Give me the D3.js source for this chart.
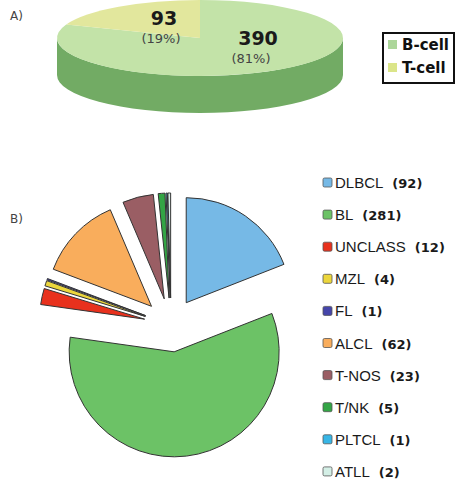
<!DOCTYPE html>
<html>
<head>
<meta charset="utf-8">
<script src="https://cdn.jsdelivr.net/npm/d3@7"></script>
<style>
  body { margin: 0; background: #fff; }
  svg { display: block; }
</style>
</head>
<body>
<div class="chart"></div>
<script>
// panel A data
const cellTypes = ["B-cell", "T-cell"];
const cellCounts = [390, 93];
const cellPct = ["(81%)", "(19%)"];

// panel B data
const subtypes = ["DLBCL", "BL", "UNCLASS", "MZL", "FL", "ALCL", "T-NOS", "T/NK", "PLTCL", "ATLL"];
const subtypeCounts = [92, 281, 12, 4, 1, 62, 23, 5, 1, 2];

const width = 457, height = 487;

const svg = d3.select(".chart").append("svg")
  .attr("width", width)
  .attr("height", height);

// ---------- A) 3D pie ----------
const topColor = d3.scaleOrdinal().domain(cellTypes).range(["#c3e3a8", "#e2e79d"]);
const sideColor = d3.scaleOrdinal().domain(cellTypes).range(["#72ab64", "#b9bf70"]);
const keyColor = d3.scaleOrdinal().domain(cellTypes).range(["#acd69a", "#dbe589"]);

const cx = 200, cy = 38, rx = 143, ry = 38, depth = 37;

const pieA = d3.pie().sort(null).value(d => d.count);
const dataA = pieA(cellTypes.map((t, i) => ({type: t, count: cellCounts[i], pct: cellPct[i]})));

// angle measured clockwise from 12 o'clock
const px = (a, dy = 0) => [cx + rx * Math.sin(a), cy + dy - ry * Math.cos(a)];

const gA = svg.append("g");

// side wall, front half only
gA.selectAll("path.side")
  .data(dataA)
  .join("path")
    .attr("class", "side")
    .attr("fill", d => sideColor(d.data.type))
    .attr("d", d => {
      const s = Math.max(d.startAngle, Math.PI / 2);
      const e = Math.min(d.endAngle, Math.PI * 1.5);
      if (e <= s) return null;
      const p0 = px(s), p1 = px(e), q1 = px(e, depth), q0 = px(s, depth);
      return "M" + p0 + "A" + rx + "," + ry + " 0 0 1 " + p1 +
        "L" + q1 + "A" + rx + "," + ry + " 0 0 0 " + q0 + "Z";
    });

// top face
gA.selectAll("path.top")
  .data(dataA)
  .join("path")
    .attr("class", "top")
    .attr("fill", d => topColor(d.data.type))
    .attr("d", d => {
      const large = d.endAngle - d.startAngle > Math.PI ? 1 : 0;
      return "M" + cx + "," + cy + "L" + px(d.startAngle) +
        "A" + rx + "," + ry + " 0 " + large + " 1 " + px(d.endAngle) + "Z";
    });

// value labels
const labelPos = {"B-cell": [58, 7], "T-cell": [-36, -13]};
const lab = gA.selectAll("g.lab")
  .data(dataA)
  .join("g")
    .attr("class", "lab")
    .attr("transform", d => "translate(" + (cx + labelPos[d.data.type][0]) + "," + (cy + labelPos[d.data.type][1]) + ")");
lab.append("text")
  .attr("text-anchor", "middle")
  .attr("font-family", "DejaVu Sans")
  .attr("font-weight", "bold")
  .attr("font-size", 19)
  .attr("fill", "#1a1a1a")
  .text(d => d.data.count);
lab.append("text")
  .attr("x", d => d.data.type === "B-cell" ? -7 : -3)
  .attr("y", 18)
  .attr("text-anchor", "middle")
  .attr("font-family", "DejaVu Sans")
  .attr("font-size", 13)
  .attr("fill", "#444")
  .text(d => d.data.pct);

svg.append("text")
  .attr("x", 10).attr("y", 20)
  .attr("font-family", "DejaVu Sans")
  .attr("font-size", 12)
  .attr("fill", "#444")
  .text("A)");

// legend A
const legA = svg.append("g").attr("transform", "translate(383,33)");
legA.append("rect")
  .attr("width", 71).attr("height", 50)
  .attr("fill", "#fff")
  .attr("stroke", "#111")
  .attr("stroke-width", 2);
const legAItem = legA.selectAll("g")
  .data(cellTypes)
  .join("g")
    .attr("transform", (d, i) => "translate(5," + (7 + i * 23) + ")");
legAItem.append("rect")
  .attr("width", 9).attr("height", 9)
  .attr("fill", d => keyColor(d));
legAItem.append("text")
  .attr("x", 14).attr("y", 10)
  .attr("font-family", "DejaVu Sans")
  .attr("font-weight", "bold")
  .attr("font-size", 15)
  .attr("fill", "#111")
  .text(d => d);

// ---------- B) exploded pie ----------
const color = d3.scaleOrdinal()
  .domain(subtypes)
  .range(["#76b9e6", "#6cc266", "#e8311d", "#ecd63c", "#4545aa",
          "#f9ad5c", "#9a5e64", "#33a545", "#38b6e6", "#d4efe6"]);

const r = 105, explode = 27;
const pieB = d3.pie().sort(null).value(d => d.count);
const arcB = d3.arc().innerRadius(0).outerRadius(r);
const dataB = pieB(subtypes.map((s, i) => ({name: s, count: subtypeCounts[i]})));

const gB = svg.append("g").attr("transform", "translate(171,325)");
gB.selectAll("path")
  .data(dataB)
  .join("path")
    .attr("transform", d => {
      const m = (d.startAngle + d.endAngle) / 2;
      return "translate(" + explode * Math.sin(m) + "," + (-explode * Math.cos(m)) + ")";
    })
    .attr("d", arcB)
    .attr("fill", d => color(d.data.name))
    .attr("stroke", "#333")
    .attr("stroke-width", 1)
    .attr("stroke-linejoin", "round");

svg.append("text")
  .attr("x", 10).attr("y", 223)
  .attr("font-family", "DejaVu Sans")
  .attr("font-size", 12)
  .attr("fill", "#444")
  .text("B)");

// legend B
const legB = svg.append("g").attr("transform", "translate(323,178)");
const legBItem = legB.selectAll("g")
  .data(dataB)
  .join("g")
    .attr("transform", (d, i) => "translate(0," + i * 32.1 + ")");
legBItem.append("rect")
  .attr("width", 9).attr("height", 9)
  .attr("rx", 1.5)
  .attr("fill", d => color(d.data.name))
  .attr("stroke", "#555")
  .attr("stroke-width", 0.8);
const legText = legBItem.append("text")
  .attr("x", 12).attr("y", 10)
  .attr("fill", "#1a1a1a");
legText.append("tspan")
  .attr("font-family", "Liberation Sans")
  .attr("font-size", 15)
  .text(d => d.data.name);
legText.append("tspan")
  .attr("font-family", "DejaVu Sans")
  .attr("font-weight", "bold")
  .attr("font-size", 13)
  .attr("dx", 9)
  .text(d => "(" + d.data.count + ")");
</script>
</body>
</html>
